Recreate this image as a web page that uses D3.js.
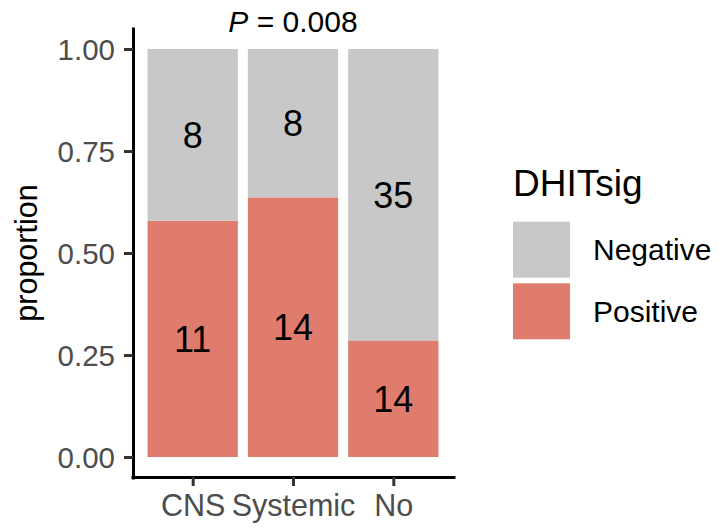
<!DOCTYPE html>
<html>
<head>
<meta charset="utf-8">
<script src="https://cdn.jsdelivr.net/npm/d3@7"></script>
<style>
  body { margin: 0; background: #fff; }
  text { font-family: "Liberation Sans", Arial, Helvetica, sans-serif; }
</style>
</head>
<body>
<svg id="chart" width="719" height="529"></svg>
<script>
// data
const categories = ["CNS", "Systemic", "No"];
const negativeCounts = [8, 8, 35];
const positiveCounts = [11, 14, 14];
const groups = ["Negative", "Positive"];
const yTicks = [0, 0.25, 0.5, 0.75, 1];
const pLabel = "0.008";

const colors = { Negative: "#c8c8c8", Positive: "#e07c6e" };

const svg = d3.select("#chart");

// scales (ggplot style expansion)
const x = d3.scalePoint()
    .domain(categories)
    .range([132.5, 453.5])
    .padding(0.6);
const barW = x.step() * 0.9;

const y = d3.scaleLinear()
    .domain([-0.05, 1.05])
    .range([477.4, 28.6]);

// build stacked proportions
const rows = categories.map((c, i) => {
    const total = negativeCounts[i] + positiveCounts[i];
    const pos = positiveCounts[i] / total;
    return [
        { cat: c, group: "Positive", n: positiveCounts[i], y0: 0, y1: pos },
        { cat: c, group: "Negative", n: negativeCounts[i], y0: pos, y1: 1 }
    ];
}).flat();

const bars = svg.append("g").selectAll("g")
    .data(rows)
    .enter()
    .append("g");

bars.append("rect")
    .attr("x", d => x(d.cat) - barW / 2)
    .attr("width", barW)
    .attr("y", d => y(d.y1))
    .attr("height", d => y(d.y0) - y(d.y1))
    .attr("fill", d => colors[d.group]);

bars.append("text")
    .attr("x", d => x(d.cat))
    .attr("y", d => y((d.y0 + d.y1) / 2))
    .attr("dy", "0.36em")
    .attr("text-anchor", "middle")
    .attr("font-size", 36)
    .attr("fill", "#000")
    .text(d => d.n);

// axes
const yAxis = svg.append("g")
    .attr("transform", "translate(133,0)")
    .call(d3.axisLeft(y).tickValues(yTicks).tickSize(9).tickSizeOuter(0).tickPadding(9)
        .tickFormat(d3.format(".2f")));

const xAxis = svg.append("g")
    .attr("transform", "translate(0,477)")
    .call(d3.axisBottom(x).tickSize(9).tickSizeOuter(0).tickPadding(7));

[yAxis, xAxis].forEach(g => {
    g.select(".domain").attr("stroke", "#000").attr("stroke-width", 3).attr("stroke-linecap", "square");
    g.selectAll(".tick line").attr("stroke", "#333").attr("stroke-width", 3);
    g.selectAll(".tick text")
        .attr("font-size", 29.5)
        .attr("fill", "#4d4d4d")
        .style("font-family", '"Liberation Sans", Arial, sans-serif');
});
yAxis.selectAll(".tick text").attr("dy", "0.36em");
xAxis.selectAll(".tick text").attr("dy", "0.74em").attr("font-size", 30.5);

// axis title
svg.append("text")
    .attr("transform", `translate(37,${(y(0) + y(1)) / 2}) rotate(-90)`)
    .attr("text-anchor", "middle")
    .attr("font-size", 30.5)
    .attr("fill", "#000")
    .text("proportion");

// p-value label
const pText = svg.append("text")
    .attr("x", x("Systemic"))
    .attr("y", 32)
    .attr("text-anchor", "middle")
    .attr("font-size", 30)
    .attr("fill", "#000");
pText.append("tspan").attr("font-style", "italic").text("P");
pText.append("tspan").text(" = " + pLabel);

// legend
const legend = svg.append("g").attr("transform", "translate(513,0)");
legend.append("text")
    .attr("x", 0)
    .attr("y", 196)
    .attr("font-size", 37)
    .attr("fill", "#000")
    .text("DHITsig");

const keys = legend.selectAll("g.key")
    .data(groups)
    .enter()
    .append("g")
    .attr("class", "key")
    .attr("transform", (d, i) => `translate(0, ${221.7 + i * 61.6})`);

keys.append("rect")
    .attr("width", 57)
    .attr("height", 56)
    .attr("fill", d => colors[d]);

keys.append("text")
    .attr("x", 80)
    .attr("y", 28)
    .attr("dy", "0.36em")
    .attr("font-size", 30)
    .attr("fill", "#000")
    .text(d => d);
</script>
</body>
</html>
